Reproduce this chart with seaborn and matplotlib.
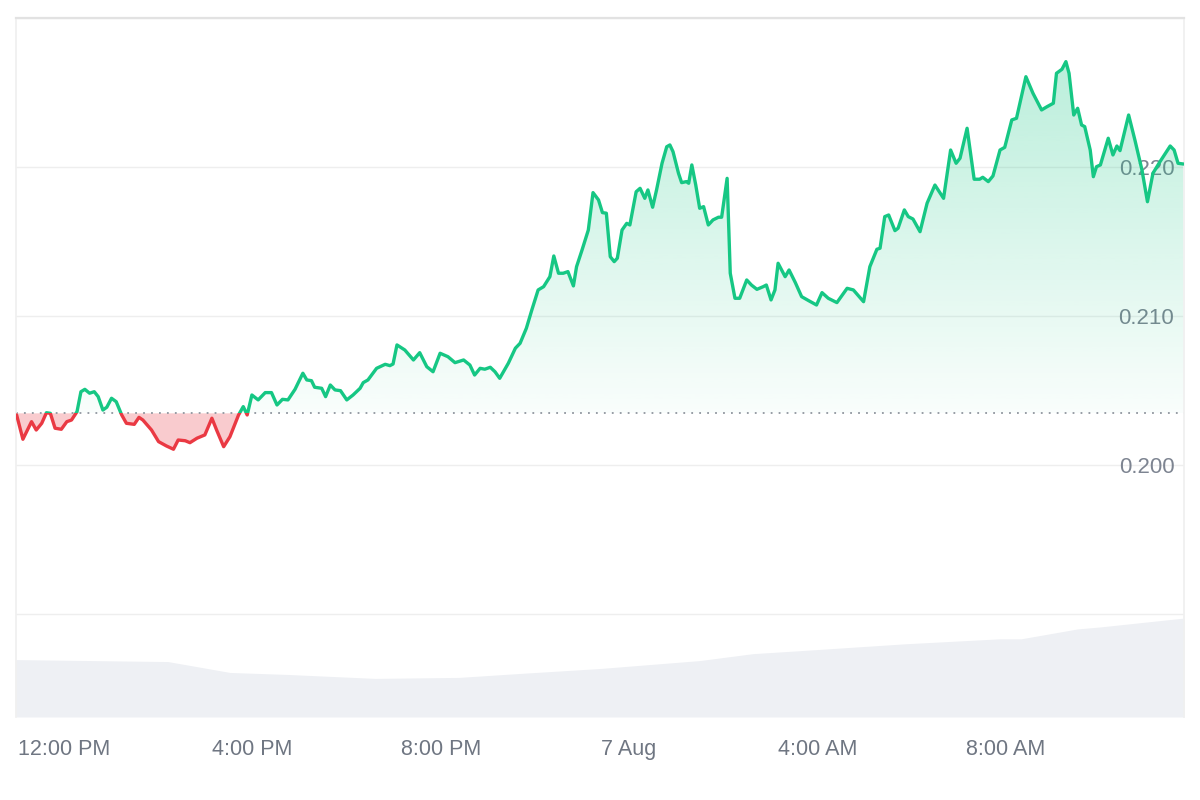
import numpy as np
import pandas as pd
import matplotlib
matplotlib.use("Agg")
import matplotlib.pyplot as plt
import seaborn as sns
from matplotlib.patches import Rectangle
from matplotlib.path import Path

# ---------------- data ----------------
# minutes relative to 12:00 PM (6 Aug)
minutes = [-61, -53, -46, -42, -36, -29, -23, -18, -12, -4, 3, 9, 16, 21, 26, 32, 38, 43, 49, 54,
           60, 66, 73, 79, 89, 95, 100, 111, 120, 130, 139, 145, 154, 160, 169, 179, 188, 194, 203, 211,
           222, 228, 233, 239, 247, 256, 264, 271, 278, 285, 294, 304, 309, 315, 319, 328, 333, 339, 345, 352,
           360, 368, 377, 381, 387, 398, 409, 415, 419, 424, 434, 445, 453, 462, 470, 479, 489, 498, 509, 517,
           523, 530, 536, 543, 549, 555, 566, 575, 581, 589, 596, 604, 611, 619, 624, 630, 636, 642, 649, 653,
           660, 668, 674, 681, 686, 691, 696, 701, 705, 711, 717, 721, 729, 734, 740, 744, 750, 755, 762, 768,
           772, 776, 783, 787, 793, 796, 800, 805, 810, 815, 821, 827, 834, 838, 845, 849, 855, 861, 870, 876,
           883, 891, 895, 901, 906, 910, 919, 924, 932, 940, 949, 959, 966, 974, 985, 998, 1006, 1019, 1027, 1036,
           1040, 1046, 1051, 1059, 1063, 1071, 1076, 1082, 1091, 1100, 1110, 1121, 1130, 1137, 1142, 1151, 1160, 1167, 1171, 1178,
           1184, 1193, 1199, 1208, 1214, 1226, 1235, 1246, 1253, 1261, 1265, 1272, 1277, 1281, 1287, 1292, 1297, 1301, 1308, 1312,
           1316, 1321, 1331, 1337, 1342, 1346, 1357, 1365, 1374, 1381, 1388, 1397, 1410, 1415, 1420, 1427]

prices = [0.20339, 0.20176, 0.20252, 0.20294, 0.20238, 0.20283, 0.20354, 0.20350, 0.20250, 0.20243,
          0.20294, 0.20305, 0.20361, 0.20495, 0.20511, 0.20485, 0.20495, 0.20462, 0.20372, 0.20391,
          0.20451, 0.20428, 0.20339, 0.20283, 0.20276, 0.20323, 0.20305, 0.20238, 0.20160, 0.20131,
          0.20109, 0.20171, 0.20166, 0.20153, 0.20183, 0.20205, 0.20317, 0.20238, 0.20126, 0.20193,
          0.20339, 0.20395, 0.20339, 0.20473, 0.20440, 0.20489, 0.20489, 0.20406, 0.20444, 0.20440,
          0.20511, 0.20619, 0.20574, 0.20569, 0.20525, 0.20518, 0.20462, 0.20540, 0.20507, 0.20502,
          0.20440, 0.20473, 0.20518, 0.20556, 0.20574, 0.20652, 0.20679, 0.20670, 0.20681, 0.20809,
          0.20775, 0.20708, 0.20757, 0.20663, 0.20629, 0.20753, 0.20730, 0.20690, 0.20708, 0.20674,
          0.20607, 0.20652, 0.20646, 0.20659, 0.20629, 0.20585, 0.20686, 0.20787, 0.20820, 0.20921,
          0.21044, 0.21178, 0.21200, 0.21267, 0.21406, 0.21290, 0.21290, 0.21301, 0.21205, 0.21334,
          0.21446, 0.21580, 0.21831, 0.21782, 0.21697, 0.21693, 0.21401, 0.21368, 0.21391, 0.21580,
          0.21625, 0.21614, 0.21837, 0.21860, 0.21793, 0.21849, 0.21733, 0.21849, 0.22028, 0.22139,
          0.22151, 0.22106, 0.21961, 0.21898, 0.21905, 0.21894, 0.22017, 0.21882, 0.21726, 0.21737,
          0.21614, 0.21648, 0.21666, 0.21666, 0.21927, 0.21290, 0.21122, 0.21122, 0.21245, 0.21211,
          0.21182, 0.21200, 0.21211, 0.21111, 0.21178, 0.21357, 0.21267, 0.21312, 0.21227, 0.21133,
          0.21106, 0.21077, 0.21160, 0.21122, 0.21093, 0.21189, 0.21178, 0.21099, 0.21334, 0.21451,
          0.21458, 0.21670, 0.21681, 0.21576, 0.21592, 0.21715, 0.21670, 0.21654, 0.21569, 0.21760,
          0.21882, 0.21793, 0.22117, 0.22028, 0.22062, 0.22263, 0.21921, 0.21921, 0.21934, 0.21905,
          0.21943, 0.22117, 0.22135, 0.22319, 0.22330, 0.22609, 0.22498, 0.22386, 0.22408, 0.22431,
          0.22632, 0.22659, 0.22710, 0.22632, 0.22352, 0.22397, 0.22285, 0.22274, 0.22117, 0.21938,
          0.22005, 0.22017, 0.22196, 0.22084, 0.22144, 0.22113, 0.22352, 0.22184, 0.21983, 0.21770,
          0.21961, 0.22039, 0.22144, 0.22117, 0.22028, 0.22023]

open_price = 0.2035

vol_minutes = [-62, 132, 211, 284, 396, 503, 581, 683, 810, 878, 938, 1073, 1193, 1220, 1292, 1321, 1428]
volumes = [58, 56, 45, 43, 39, 40, 44, 49, 57, 64, 67, 74, 79, 79, 89, 91, 100]

tick_minutes = [0, 240, 480, 720, 960, 1200]
tick_labels = ["12:00 PM", "4:00 PM", "8:00 PM", "7 Aug", "4:00 AM", "8:00 AM"]
grid_prices = [0.19, 0.20, 0.21, 0.22, 0.23]
price_labels = ["", "0.200", "0.210", "0.220", ""]

# ---------------- style ----------------
sns.set_theme(style="white")
plt.rcParams["font.family"] = ["Liberation Sans", "DejaVu Sans"]

GREEN = "#16c784"
RED = "#ea3943"
GREY_TXT = "#7d8491"

df = pd.DataFrame({"t": minutes, "price": prices})
t = np.asarray(minutes, dtype=float)
p = np.asarray(prices, dtype=float)

fig = plt.figure(figsize=(12, 8), dpi=100)
fig.patch.set_facecolor("white")
rect = [16 / 1200, 1 - 717 / 800, 1168 / 1200, 699 / 800]
xlim = (-61.8, 1427.6)
ylim = (0.18312, 0.23003)

# volume axes (behind)
ax_vol = fig.add_axes(rect, zorder=0)
ax_vol.fill_between(vol_minutes, volumes, 0, color="#eef0f4", lw=0)
ax_vol.set_xlim(*xlim)
ax_vol.set_ylim(0, max(volumes) / 0.1416)
ax_vol.axis("off")

# price axes
ax = fig.add_axes(rect, zorder=1)
ax.patch.set_alpha(0)
ax.set_xlim(*xlim)
ax.set_ylim(*ylim)

# grid
for g in grid_prices:
    ax.axhline(g, color="#eeeeee", lw=1.0, zorder=0.5)

# green gradient fill (above open)
top_frac = np.linspace(0, 1, 256).reshape(-1, 1)
rgba = np.zeros((256, 1, 4))
rgba[..., :3] = matplotlib.colors.to_rgb(GREEN)
rgba[..., 3] = 0.025 + 0.30 * top_frac
im = ax.imshow(rgba, extent=(xlim[0], xlim[1], open_price, ylim[1]), origin="lower",
               aspect="auto", zorder=1.5, interpolation="bilinear")
upper = np.maximum(p, open_price)
verts = list(zip(t, upper)) + [(t[-1], open_price), (t[0], open_price), (t[0], upper[0])]
clip = Path(verts, closed=True)
im.set_clip_path(clip, ax.transData)

# red fill (below open)
ax.fill_between(t, p, open_price, where=p < open_price, interpolate=True,
                color=RED, alpha=0.26, lw=0, zorder=1.6)

# lines: green above open, red below open
sns.lineplot(data=df, x="t", y="price", ax=ax, color=GREEN, lw=2.4,
             estimator=None, sort=False, zorder=3)
line_g = ax.lines[-1]
sns.lineplot(data=df, x="t", y="price", ax=ax, color=RED, lw=2.4,
             estimator=None, sort=False, zorder=3)
line_r = ax.lines[-1]
for ln in (line_g, line_r):
    ln.set_solid_joinstyle("round")
    ln.set_solid_capstyle("round")
rg = Rectangle((xlim[0], open_price), xlim[1] - xlim[0], ylim[1] - open_price,
               transform=ax.transData, fill=False, visible=False)
rr = Rectangle((xlim[0], ylim[0]), xlim[1] - xlim[0], open_price - ylim[0],
               transform=ax.transData, fill=False, visible=False)
ax.add_patch(rg)
ax.add_patch(rr)
line_g.set_clip_path(rg)
line_r.set_clip_path(rr)

# dotted open line
ax.axhline(open_price, color="#8f959e", lw=1.3, ls=(0, (1, 3.4)), zorder=2.5)

# ticks
ax.set_xticks(tick_minutes)
ax.set_xticklabels(tick_labels)
ax.set_yticks(grid_prices)
ax.set_yticklabels(price_labels)
ax.tick_params(axis="x", length=0, pad=16, labelsize=15.5, labelcolor="#6f7682")
ax.tick_params(axis="y", length=0, labelleft=False, labelright=True, left=False, right=False,
               pad=-7, labelsize=16, labelcolor=GREY_TXT)
for lbl in ax.get_yticklabels():
    lbl.set_horizontalalignment("right")
ax.set_xlabel("")
ax.set_ylabel("")

# frame
for side in ["top", "left", "right", "bottom"]:
    ax.spines[side].set_visible(True)
ax.spines["top"].set_color("#e2e2e2")
ax.spines["top"].set_linewidth(1.6)
ax.spines["left"].set_color("#f0f0f0")
ax.spines["right"].set_color("#f0f0f0")
ax.spines["bottom"].set_visible(False)

fig.savefig("out.png", dpi=100, facecolor="white")
